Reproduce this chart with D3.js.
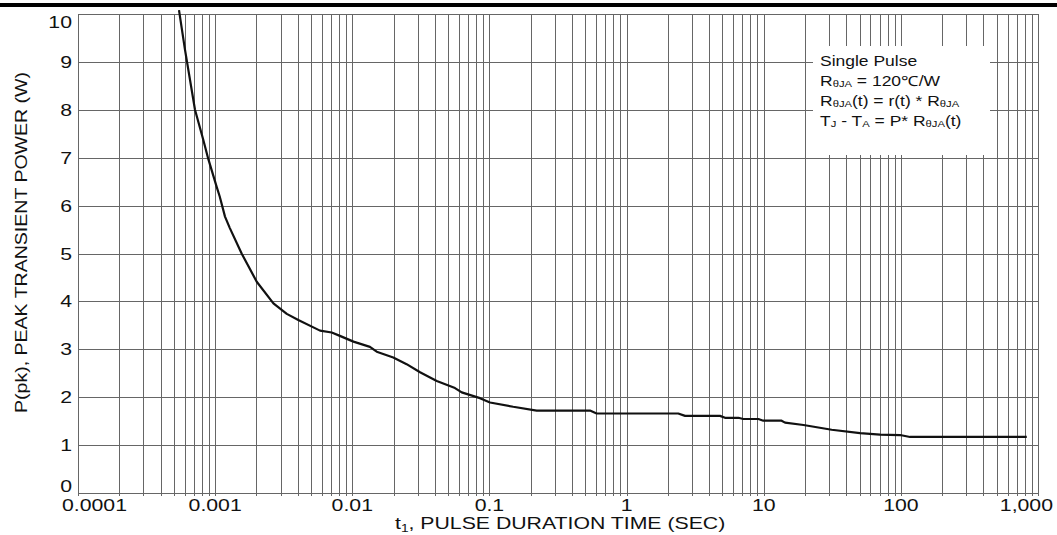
<!DOCTYPE html>
<html>
<head>
<meta charset="utf-8">
<script src="https://cdn.jsdelivr.net/npm/d3@7"></script>
<style>
body { margin: 0; background: #fff; }
text { font-family: Arial, "Liberation Sans", sans-serif; fill: #111; }
</style>
</head>
<body>
<script>
// pulse duration (s) and peak transient power (W)
const pulseT = [5.45e-4, 6.03e-4, 7.13e-4, 8.2e-4, 8.9e-4, 1.026e-3, 1.08e-3, 1.18e-3, 1.28e-3, 1.56e-3,
  2.01e-3, 2.66e-3, 3.33e-3, 4.04e-3, 5.82e-3, 7.08e-3, 8.12e-3, 0.0102, 0.01345, 0.01507,
  0.0199, 0.0249, 0.0312, 0.0413, 0.0561, 0.0628, 0.0853, 0.101, 0.149, 0.221,
  0.541, 0.605, 0.895, 2.38, 2.67, 4.8, 5.22, 6.53, 7.1, 9.14,
  9.94, 13.5, 14.3, 19.5, 31.3, 50.4, 70.5, 98.6, 116.7, 828];
const peakP = [10.08, 9.25, 8.0, 7.37, 6.98, 6.39, 6.19, 5.77, 5.53, 5.0,
  4.41, 3.96, 3.74, 3.61, 3.39, 3.35, 3.28, 3.16, 3.05, 2.95,
  2.83, 2.69, 2.52, 2.34, 2.19, 2.10, 1.98, 1.89, 1.80, 1.72,
  1.72, 1.66, 1.66, 1.66, 1.61, 1.61, 1.57, 1.57, 1.545, 1.545,
  1.51, 1.51, 1.47, 1.42, 1.32, 1.25, 1.22, 1.21, 1.17, 1.17];

const xTicks = [0.0001, 0.001, 0.01, 0.1, 1, 10, 100, 1000];
const xTickLabels = ["0.0001", "0.001", "0.01", "0.1", "1", "10", "100", "1,000"];
const yTicks = [0, 1, 2, 3, 4, 5, 6, 7, 8, 9, 10];

const legendLines = [
  [["Single Pulse", 0]],
  [["R", 0], ["\u03b8JA", 1], [" = 120\u2103/W", 0]],
  [["R", 0], ["\u03b8JA", 1], ["(t) = r(t) * R", 0], ["\u03b8JA", 1]],
  [["T", 0], ["J", 1], [" - T", 0], ["A", 1], [" = P* R", 0], ["\u03b8JA", 1], ["(t)", 0]]
];

const W = 1057, H = 535;
const SX = 1.25; // text in the original is a bit wide
const pLeft = 78, pRight = 1038, pTop = 14, pBottom = 493;

const svg = d3.select("body").append("svg")
  .attr("width", W).attr("height", H);

const x = d3.scaleLog().domain([0.0001, 1000]).range([pLeft, pRight]);
const y = d3.scaleLinear().domain([0, 10]).range([pBottom, pTop]);

// thick rule at the top of the page
svg.append("rect").attr("x", 0).attr("y", 3).attr("width", W).attr("height", 4).attr("fill", "#000");

// grid
var gridT = [];
for (var k = -4; k <= 2; k++) {
  for (var m = 1; m <= 9; m++) gridT.push(m * Math.pow(10, k));
}
gridT.push(1000);

svg.append("g").selectAll("line.v")
  .data(gridT).enter().append("line")
  .attr("x1", d => Math.round(x(d)) + 0.5).attr("x2", d => Math.round(x(d)) + 0.5)
  .attr("y1", pTop).attr("y2", pBottom + 3)
  .attr("stroke", "#666").attr("stroke-width", 1);

svg.append("g").selectAll("line.h")
  .data(yTicks).enter().append("line")
  .attr("x1", pLeft).attr("x2", pRight + 0.5)
  .attr("y1", d => Math.round(y(d)) + 0.5).attr("y2", d => Math.round(y(d)) + 0.5)
  .attr("stroke", "#666").attr("stroke-width", 1);

// legend box blanks out the grid
svg.append("rect").attr("x", 813).attr("y", 46).attr("width", 177).attr("height", 109).attr("fill", "#fff");

function txt(px, py, anchor, size, rot, sx) {
  return svg.append("text")
    .attr("transform", "translate(" + px + "," + py + ")" + (rot ? " rotate(" + rot + ")" : "") + " scale(" + (sx || SX) + ",1)")
    .attr("text-anchor", anchor)
    .style("font-size", size + "px");
}

// curve
const line = d3.line().x(d => x(d[0])).y(d => y(d[1])).curve(d3.curveLinear);
svg.append("path")
  .datum(d3.zip(pulseT, peakP))
  .attr("d", line)
  .attr("fill", "none").attr("stroke", "#111").attr("stroke-width", 2.2)
  .attr("stroke-linejoin", "round");

// y tick labels
yTicks.forEach(function(v) {
  var py = y(v) + 6;
  if (v === 0) py = pBottom - 1;
  if (v === 10) py = 27.5;
  txt(72, py, "end", 17).text(v);
});

// x tick labels
xTicks.forEach(function(t, i) {
  var px = x(t), anchor = "middle";
  if (i === 0) { px = 62; anchor = "start"; }
  if (i === xTicks.length - 1) { px = 1053; anchor = "end"; }
  txt(px, 511, anchor, 17).text(xTickLabels[i]);
});

// axis titles
var xt = txt(395, 529, "start", 17);
xt.append("tspan").text("t");
xt.append("tspan").attr("dy", 3).style("font-size", "11px").text("1");
xt.append("tspan").attr("dy", -3).text(", PULSE DURATION TIME (SEC)");

txt(27, 413, "start", 17, -90, 1.15).text("P(pk), PEAK TRANSIENT POWER (W)");

// legend text
legendLines.forEach(function(parts, i) {
  var t = txt(820, 66 + i * 20, "start", 14);
  var low = false;
  parts.forEach(function(p) {
    var s = t.append("tspan").text(p[0]);
    if (p[1] && !low) { s.attr("dy", 1).style("font-size", "9px"); low = true; }
    else if (p[1]) { s.style("font-size", "9px"); }
    else if (low) { s.attr("dy", -1); low = false; }
  });
});
</script>
</body>
</html>
